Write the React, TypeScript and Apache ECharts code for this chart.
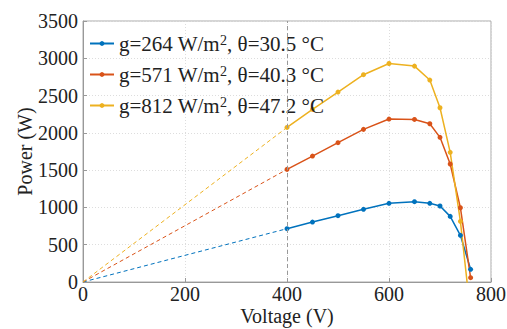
import React, { useEffect, useRef } from "react";
import * as echarts from "echarts";

const voltage = [400, 450, 500, 550, 600, 650, 680, 700, 720, 740, 760];
const powerBlue = [715, 804, 889, 975, 1055, 1077, 1055, 1019, 880, 626, 170];
const powerRed = [1510, 1689, 1868, 2047, 2185, 2180, 2122, 1940, 1582, 996, 58];
const powerYellow = [2073, 2315, 2547, 2780, 2930, 2895, 2708, 2337, 1739, 814, -430];

const seriesNames = [
  "g=264 W/m2, θ=30.5 °C",
  "g=571 W/m2, θ=40.3 °C",
  "g=812 W/m2, θ=47.2 °C",
];
const legendRich = [
  "g=264 W/m{sup|2}, θ=30.5 °C",
  "g=571 W/m{sup|2}, θ=40.3 °C",
  "g=812 W/m{sup|2}, θ=47.2 °C",
];
const colors = ["#0072BD", "#D95319", "#EDB120"];
const xTicks = [0, 200, 400, 600, 800];
const yTicks = [0, 500, 1000, 1500, 2000, 2500, 3000, 3500];
const markV = 400;

const FONT = "'Liberation Serif', 'Times New Roman', 'DejaVu Serif', serif";

export default function App() {
  const ref = useRef<HTMLDivElement>(null);
  useEffect(() => {
    document.body.style.margin = "0";
    const chart = echarts.init(ref.current!, null, { renderer: "svg" });
    const all = [powerBlue, powerRed, powerYellow];
    const solid = all.map((p, i) => ({
      name: seriesNames[i],
      type: "line",
      data: voltage.map((v, j) => [v, p[j]]),
      symbol: "circle",
      symbolSize: 5,
      color: colors[i],
      lineStyle: { width: 1.5, color: colors[i] },
      itemStyle: { color: colors[i] },
      clip: true,
      z: 3,
    }));
    const dashed = all.map((p, i) => ({
      name: "dash" + i,
      type: "line",
      data: [
        [0, 0],
        [voltage[0], p[0]],
      ],
      symbol: "none",
      lineStyle: { width: 1, type: [4, 3], color: colors[i] },
      z: 2,
      markLine:
        i === 0
          ? {
              silent: true,
              symbol: "none",
              label: { show: false },
              lineStyle: { color: "#999", type: [4, 3], width: 1 },
              data: [{ xAxis: markV }],
            }
          : undefined,
    }));
    const label = {
      fontFamily: FONT,
      fontSize: 20,
      color: "#222",
      formatter: (v: number) => String(v),
    };
    chart.setOption({
      animation: false,
      textStyle: { fontFamily: FONT },
      grid: {
        left: 83,
        right: 16,
        top: 21,
        bottom: 47,
        show: true,
        borderColor: "#aaa",
        borderWidth: 1,
        containLabel: false,
        outerBoundsMode: "none",
      },
      legend: {
        data: seriesNames,
        orient: "vertical",
        left: 89,
        top: 33,
        padding: 0,
        itemWidth: 24,
        itemHeight: 6,
        itemGap: 10,
        formatter: (name: string) => legendRich[seriesNames.indexOf(name)],
        textStyle: {
          fontFamily: FONT,
          fontSize: 21,
          color: "#222",
          rich: {
            sup: {
              fontFamily: FONT,
              fontSize: 14,
              color: "#222",
              verticalAlign: "top",
            },
          },
        },
      },
      xAxis: {
        type: "value",
        min: xTicks[0],
        max: xTicks[xTicks.length - 1],
        interval: 200,
        name: "Voltage (V)",
        nameLocation: "middle",
        nameGap: 24,
        nameMoveOverlap: false,
        nameTextStyle: { fontFamily: FONT, fontSize: 20, color: "#222" },
        axisLine: { show: true, lineStyle: { color: "#999" } },
        axisTick: { show: true, inside: true, length: 4, lineStyle: { color: "#999" } },
        axisLabel: { ...label, margin: 2 },
        splitLine: { show: true, lineStyle: { color: "#ddd", type: [1, 2] } },
      },
      yAxis: {
        type: "value",
        min: yTicks[0],
        max: yTicks[yTicks.length - 1],
        interval: 500,
        name: "Power (W)",
        nameLocation: "middle",
        nameGap: 48,
        nameMoveOverlap: false,
        nameTextStyle: { fontFamily: FONT, fontSize: 20, color: "#222" },
        axisLine: { show: true, lineStyle: { color: "#999" } },
        axisTick: { show: true, inside: true, length: 4, lineStyle: { color: "#999" } },
        axisLabel: { ...label, margin: 5 },
        splitLine: { show: true, lineStyle: { color: "#ddd", type: [1, 2] } },
      },
      series: [...dashed, ...solid],
    });
    return () => chart.dispose();
  }, []);
  return <div ref={ref} style={{ width: 507, height: 329 }} />;
}
